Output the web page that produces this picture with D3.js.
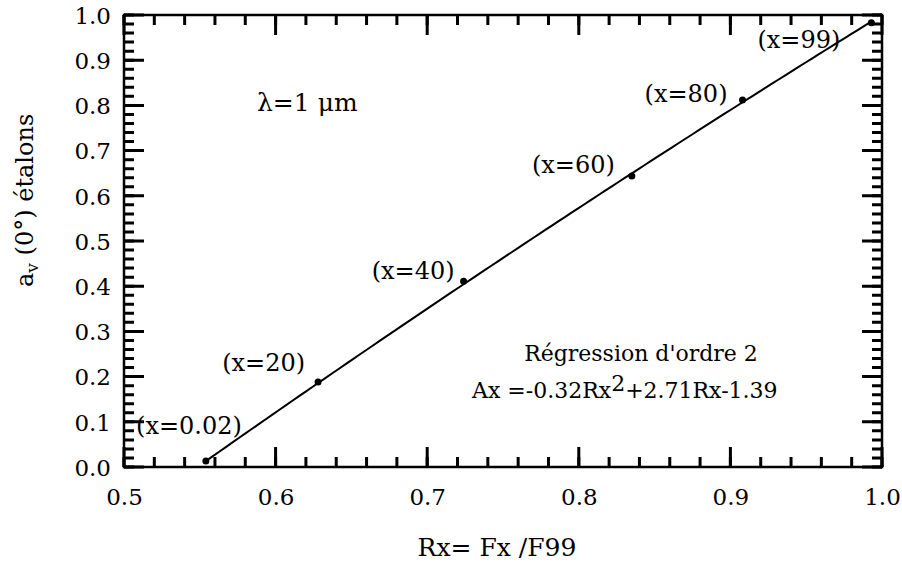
<!DOCTYPE html>
<html>
<head>
<meta charset="utf-8">
<script src="https://cdn.jsdelivr.net/npm/d3@7/dist/d3.min.js"></script>
<style>
  html, body { margin: 0; padding: 0; background: #fff; }
  svg { display: block; }
  text { font-family: "DejaVu Serif", "Liberation Serif", serif; fill: #000; }
</style>
</head>
<body>
<svg id="chart" width="902" height="566"></svg>
<script>
// Calibration standards: reflectance ratio Rx = Fx/F99 vs absorption a_v(0°)
const rxValues = [0.554, 0.628, 0.724, 0.835, 0.908, 0.993];
const avValues = [0.013, 0.188, 0.411, 0.644, 0.812, 0.983];
const pointLabels = ["(x=0.02)", "(x=20)", "(x=40)", "(x=60)", "(x=80)", "(x=99)"];

// Second-order regression Ax = c2·Rx² + c1·Rx + c0
const fitCoefs = [-0.32, 2.71, -1.39];

const xTickValues = [0.5, 0.6, 0.7, 0.8, 0.9, 1.0];
const yTickValues = [0.0, 0.1, 0.2, 0.3, 0.4, 0.5, 0.6, 0.7, 0.8, 0.9, 1.0];

const margin = { left: 124, right: 20, top: 15, bottom: 99 };
const W = 902, H = 566;
const svg = d3.select("#chart");

const x = d3.scaleLinear().domain([0.5, 1.0]).range([margin.left, W - margin.right]);
const y = d3.scaleLinear().domain([0.0, 1.0]).range([H - margin.bottom, margin.top]);

const plotL = x.range()[0], plotR = x.range()[1];
const plotB = y.range()[0], plotT = y.range()[1];

// Tick labels
const fmt = d3.format(".1f");
const xLab = svg.append("g").attr("transform", `translate(0,${plotB})`)
  .call(d3.axisBottom(x).tickValues(xTickValues).tickSize(0).tickPadding(0).tickFormat(fmt));
xLab.select(".domain").remove();
xLab.selectAll("line").remove();
xLab.selectAll("text").attr("font-size", 23).attr("y", 38).attr("dy", 0);

const yLab = svg.append("g").attr("transform", `translate(${plotL},0)`)
  .call(d3.axisLeft(y).tickValues(yTickValues).tickSize(0).tickPadding(13).tickFormat(fmt));
yLab.select(".domain").remove();
yLab.selectAll("line").remove();
yLab.selectAll("text").attr("font-size", 23).attr("dy", "0.36em");

// Regression curve between the extreme standards
const fit = r => fitCoefs[0] * r * r + fitCoefs[1] * r + fitCoefs[2];
const rMin = d3.min(rxValues), rMax = d3.max(rxValues);
const curve = d3.range(0, 101).map(i => {
  const r = rMin + (rMax - rMin) * i / 100;
  return [r, fit(r)];
});
svg.append("path")
  .datum(curve)
  .attr("fill", "none").attr("stroke", "#000").attr("stroke-width", 2)
  .attr("d", d3.line().x(d => x(d[0])).y(d => y(d[1])));

// Measured standards
const pts = rxValues.map((r, i) => ({ r, a: avValues[i], label: pointLabels[i] }));
svg.append("g").selectAll("circle").data(pts).join("circle")
  .attr("cx", d => x(d.r)).attr("cy", d => y(d.a)).attr("r", 3.5).attr("fill", "#000");

// Label placement (right edge / baseline relative to each point)
const labelShift = [[36, -27], [-13, -11], [-9, -2], [-17, -3], [-15, 2], [-31, 25]];
svg.append("g").selectAll("text").data(pts).join("text")
  .attr("x", (d, i) => x(d.r) + labelShift[i][0])
  .attr("y", (d, i) => y(d.a) + labelShift[i][1])
  .attr("text-anchor", "end")
  .attr("font-size", 24)
  .text(d => d.label);

// Wavelength annotation
svg.append("text").attr("x", 257).attr("y", 111).attr("font-size", 25).text("λ=1 μm");

// Regression annotation
svg.append("text").attr("x", 641).attr("y", 361).attr("text-anchor", "middle")
  .attr("font-size", 22).text("Régression d'ordre 2");
const eq = svg.append("text").attr("x", 472).attr("y", 398).attr("font-size", 22);
eq.append("tspan").text("Ax =-0.32Rx");
eq.append("tspan").attr("dy", -7).text("2");
eq.append("tspan").attr("dy", 7).text("+2.71Rx-1.39");

// Axis titles
svg.append("text").attr("x", (plotL + plotR) / 2 - 6).attr("y", 556)
  .attr("text-anchor", "middle").attr("font-size", 25).text("Rx= Fx /F99");

const yt = svg.append("text")
  .attr("transform", "translate(33,287) rotate(-90)")
  .attr("font-size", 24);
yt.append("tspan").text("a");
yt.append("tspan").attr("dy", 5).attr("font-size", 17).text("v");
yt.append("tspan").attr("dy", -5).text(" (0°) étalons");

// Frame and inward ticks on all four sides (minor every 0.02)
const minorX = d3.range(0, 26).map(i => +(0.5 + i * 0.02).toFixed(2));
const minorY = d3.range(0, 51).map(i => +(i * 0.02).toFixed(2));
const MAJOR = 20, MINOR = 10;

function tickPath(xs, ys, len) {
  const p = d3.path();
  xs.forEach(v => {
    const px = x(v);
    p.moveTo(px, plotB); p.lineTo(px, plotB - len);
    p.moveTo(px, plotT); p.lineTo(px, plotT + len);
  });
  ys.forEach(v => {
    const py = y(v);
    p.moveTo(plotL, py); p.lineTo(plotL + len, py);
    p.moveTo(plotR, py); p.lineTo(plotR - len, py);
  });
  return p.toString();
}
svg.append("rect")
  .attr("x", plotL).attr("y", plotT)
  .attr("width", plotR - plotL).attr("height", plotB - plotT)
  .attr("fill", "none").attr("stroke", "#000").attr("stroke-width", 2.5);
svg.append("path").attr("d", tickPath(minorX, minorY, MINOR))
  .attr("fill", "none").attr("stroke", "#000").attr("stroke-width", 3);
svg.append("path").attr("d", tickPath(xTickValues, yTickValues, MAJOR))
  .attr("fill", "none").attr("stroke", "#000").attr("stroke-width", 3);
</script>
</body>
</html>
